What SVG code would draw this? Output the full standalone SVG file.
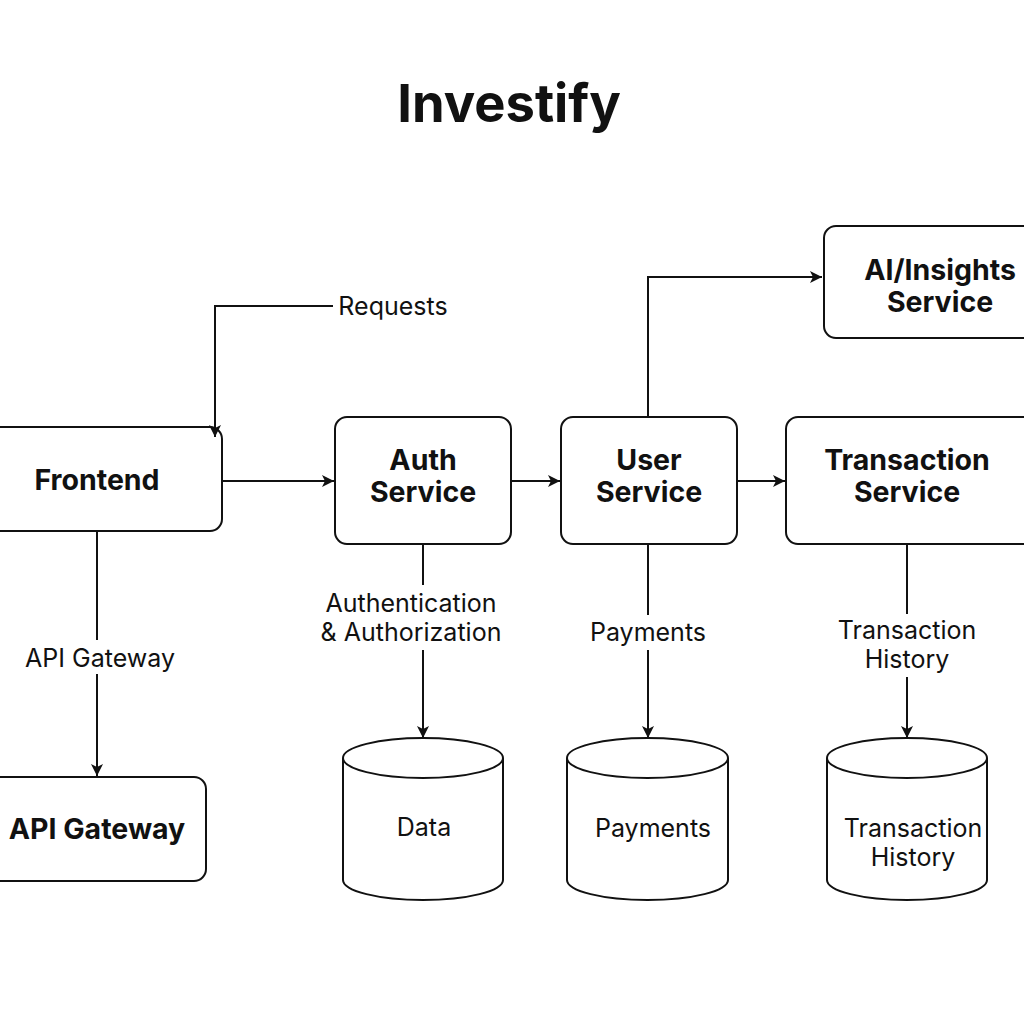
<svg xmlns="http://www.w3.org/2000/svg" width="1024" height="1024" viewBox="0 0 1024 1024">
<style>
.box{fill:#fff;stroke:#111;stroke-width:2}
.ln{fill:none;stroke:#111;stroke-width:2}
.t{font-family:Inter,"Liberation Sans",sans-serif;fill:#111;text-anchor:middle}
.b{font-weight:700;font-size:28.5px}
.r{font-weight:400;font-size:25px}
</style>
<defs>
<marker id="ah" viewBox="0 0 10 10" refX="10" refY="5" markerWidth="13" markerHeight="12" markerUnits="userSpaceOnUse" orient="auto">
<path d="M0,0 L10,5 L0,10 L2.5,5 z" fill="#111"/>
</marker>
</defs>
<rect width="1024" height="1024" fill="#fff"/>
<text class="t" x="509" y="122" font-size="52.5" font-weight="700">Investify</text>
<g id="frontend">
<rect class="box" x="-20" y="427" width="242" height="104" rx="12"/>
<text class="t b" x="97" y="490">Frontend</text>
</g>
<g id="auth">
<rect class="box" x="335" y="417" width="176" height="127" rx="12"/>
<text class="t b" x="423" y="470">Auth</text>
<text class="t b" x="423" y="502">Service</text>
</g>
<g id="user">
<rect class="box" x="561" y="417" width="176" height="127" rx="12"/>
<text class="t b" x="649" y="470">User</text>
<text class="t b" x="649" y="502">Service</text>
</g>
<g id="transaction">
<rect class="box" x="786" y="417" width="260" height="127" rx="12"/>
<text class="t b" x="907" y="470">Transaction</text>
<text class="t b" x="907" y="502">Service</text>
</g>
<g id="ai">
<rect class="box" x="824" y="226" width="220" height="112" rx="12"/>
<text class="t b" x="940" y="280">AI/Insights</text>
<text class="t b" x="940" y="312">Service</text>
</g>
<g id="apigateway">
<rect class="box" x="-20" y="777" width="226" height="104" rx="12"/>
<text class="t b" x="97" y="839">API Gateway</text>
</g>
<g id="data">
<path class="box" d="M343,758 V880 A80,20 0 0 0 503,880 V758 A80,20 0 0 0 343,758 A80,20 0 0 0 503,758"/>
<text class="t r" x="424" y="836">Data</text>
</g>
<g id="payments">
<path class="box" d="M567,758 V880 A80.5,20 0 0 0 728,880 V758 A80.5,20 0 0 0 567,758 A80.5,20 0 0 0 728,758"/>
<text class="t r" x="653" y="837">Payments</text>
</g>
<g id="history">
<path class="box" d="M827,758 V880 A80,20 0 0 0 987,880 V758 A80,20 0 0 0 827,758 A80,20 0 0 0 987,758"/>
<text class="t r" x="913" y="837">Transaction</text>
<text class="t r" x="913" y="866">History</text>
</g>
<g id="connectors">
<path class="ln" d="M333,306 H215 V437" marker-end="url(#ah)"/>
<path class="ln" d="M222,481 H334" marker-end="url(#ah)"/>
<path class="ln" d="M511,481 H560" marker-end="url(#ah)"/>
<path class="ln" d="M737,481 H785" marker-end="url(#ah)"/>
<path class="ln" d="M648,417 V277 H822" marker-end="url(#ah)"/>
<path class="ln" d="M97,532 V640 M97,674 V776" marker-end="url(#ah)"/>
<path class="ln" d="M423,544 V585 M423,650 V738" marker-end="url(#ah)"/>
<path class="ln" d="M648,544 V615 M648,650 V738" marker-end="url(#ah)"/>
<path class="ln" d="M907,544 V614 M907,677 V738" marker-end="url(#ah)"/>
<text class="t r" x="393" y="315">Requests</text>
<text class="t r" x="100" y="667">API Gateway</text>
<text class="t r" x="411" y="612">Authentication</text>
<text class="t r" x="411" y="641">&amp; Authorization</text>
<text class="t r" x="648" y="641">Payments</text>
<text class="t r" x="907" y="639">Transaction</text>
<text class="t r" x="907" y="668">History</text>
</g>
</svg>
